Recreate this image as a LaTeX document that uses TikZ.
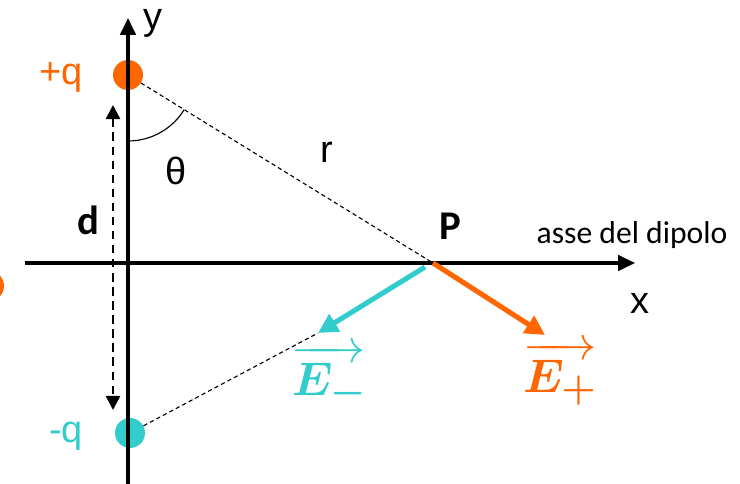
\documentclass[tikz,border=0pt]{standalone}
\usepackage{amsmath}
\usepackage{bm}
\usepackage{graphicx}
\usepackage{fontspec}
\setmainfont{Liberation Sans}
\newfontfamily\calib{Carlito}
\usetikzlibrary{arrows.meta, positioning, calc, angles}
\definecolor{cOrange}{RGB}{255,102,0}
\definecolor{cCyan}{RGB}{51,204,204}
\newcommand{\vecE}[1]{\scalebox{1.35}{\fontsize{24.88}{26}\selectfont$\overrightarrow{\bm{E}_{\bm{#1}}}$}}
\tikzset{
	axis/.style    ={-{Triangle[length=12pt, width=11pt]}, line width=2.2pt},
	charge/.style  ={circle, minimum size=0.75cm, inner sep=0pt},
	guide/.style   ={line width=0.8pt, dash pattern=on 3pt off 2.2pt},
	dist/.style    ={{Triangle[length=10pt, width=10pt]}-{Triangle[length=10pt, width=10pt]}, line width=1.8pt, dash pattern=on 6pt off 4pt},
	field/.style   ={-{Triangle[length=14pt, width=14pt]}, line width=3.6pt},
	lbl/.style     ={font=\fontsize{27}{30}\selectfont, inner sep=0pt},
	vlbl/.style    ={inner sep=0pt, anchor=base},
}
\begin{document}
\begin{tikzpicture}[x=0.025cm, y=-0.025cm]
	\useasboundingbox (0,0) rectangle (740,484);
	\coordinate (O) at (128,263);
	\coordinate (P) at (433,263);
	\coordinate (Es) at (425,267);
	\coordinate (Em) at (318,333);
	\coordinate (Ep) at (545,335);
	\node[charge, fill=cOrange] (pq) at (128,75) {};
	\node[charge, fill=cCyan] (mq) at (130,433) {};
	\begin{scope}
		\clip (0,0) rectangle (740,484);
		\fill[cOrange] (-11,286) circle[radius=15];
	\end{scope}
	\draw[axis] (128,484) -- (128,18);
	\draw[axis] (25,263) -- (635,263);
	\draw[guide] (pq) -- (P);
	\draw[guide] (mq) -- (Em);
	\pic[draw, line width=0.8pt, angle radius=1.65cm] {angle = O--pq--P};
	\draw[dist] (113,105) -- (113,410);
	\draw[field, cCyan] (Es) -- (Em);
	\draw[field, cOrange] (P) -- (Ep);
	\node[lbl, anchor=base] (y) at (153,30) {y};
	\node[lbl, anchor=base] (x) at (640,313) {x};
	\node[lbl, anchor=base, text=cOrange] (lpq) at (61,85) {+q};
	\node[lbl, anchor=base, text=cCyan] (lmq) at (66,442) {-q};
	\node[lbl, anchor=base] (th) at (176,185) {θ};
	\node[lbl, anchor=base] (r) at (327,163) {r};
	\node[lbl, anchor=base, font=\calib\bfseries\fontsize{29}{30}\selectfont] (lp) at (450,240) {P};
	\node[lbl, anchor=base, font=\calib\bfseries\fontsize{29}{30}\selectfont] (d) at (88,235) {d};
	\node[lbl, anchor=base, font=\calib\fontsize{22.5}{24}\selectfont] (asse) at (632,243) {asse del dipolo};
	\node[vlbl, text=cCyan] (lEm) at (329,395) {\vecE{-}};
	\node[vlbl, text=cOrange] (lEp) at (560,392) {\vecE{+}};
\end{tikzpicture}
\end{document}
